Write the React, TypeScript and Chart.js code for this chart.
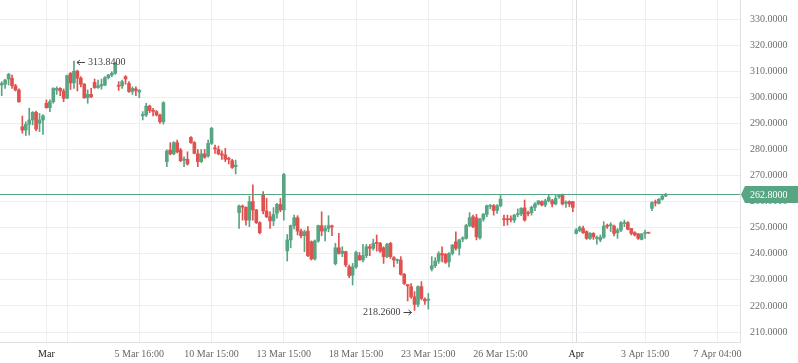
import React, { useEffect, useRef } from 'react';
import { Chart, registerables } from 'chart.js';
Chart.register(...registerables);

const opens = [
  304.7,305,307,307.3,304.4,302.8,288.7,287.4,289.6,291.3,
  294.2,290,291.3,297.7,296,298.3,302.8,303.4,302.4,299.6,
  309.2,305.5,310,307.3,305,299.8,301.1,305.7,303.7,304.3,
  304.7,307.5,308.5,309.2,304.6,304.4,307.9,305.3,302.2,303.2,
  302,292.9,293.2,296.6,295,294.5,293.2,290.6,275.3,279.8,
  278.3,282.6,279.8,275.9,276.2,284.6,282.6,278.3,275.3,278.3,
  277.5,282.3,280.6,280,278.3,277.9,276.5,275.7,273.4,255.8,
  258.2,257.8,252.9,260,256.8,251.9,262.6,256.4,254.2,252.6,
  255.5,258.9,256.8,241.1,245.3,250.8,253.8,248.7,246.9,248.7,
  244.6,238,244.9,250.8,248.7,249.7,250.6,236.2,242.3,240.1,
  240.8,235,231.8,235,239.3,237.6,239.3,242.7,242.1,244.2,
  244,242.3,238.9,244,238.5,237.4,237.6,232.1,228.2,227.4,
  223.5,220.6,227.4,222.6,222.2,234.1,235.4,237.2,240.1,239.8,
  236.9,240.1,244.6,242.1,245.6,245.9,250.8,254.2,253.8,246.1,
  253.3,255.1,258.2,258.4,256.6,258.4,253.3,253.2,253.3,252.9,
  255,255.3,257.6,255.6,255.7,257.8,259.1,260,258.7,260.3,
  260.3,259.1,261.9,262.5,259.4,260,260,247.8,248.9,249.7,
  248.5,245.9,247.8,245.9,245.3,246.3,250.7,250.8,250.6,248.1,
  249.1,251.6,251.9,249.7,248.1,247.6,245.5,247.8,248.1,257.4,
  259.7,259.3,260.9,262.1
];
const highs = [
  306,306.9,309.2,308.5,305,303.2,292.8,290.6,295.8,294.5,
  294.7,293.8,293.4,299,299,303.7,304,303.7,303.2,308.5,
  309.5,313.84,310.4,307.9,305.3,302.8,303.4,307,306.6,307,
  307.9,308.8,309.8,313.4,306,306.6,308.3,306,304,304,
  303,294.5,297.7,297,295.8,294.9,293.6,298.3,279.8,282.6,
  283,283.6,280.4,277.2,279.1,284.9,283,280,280,280,
  283.6,288.5,281.7,281.3,279.5,280.4,277,276.2,275.9,258.7,
  258.7,258,262.1,266.4,257,252.3,263.8,261.2,256.1,257.7,
  259.3,261.2,270.8,247.4,251,254.8,254.6,249.5,249.1,250.4,
  244.9,245.3,251,256.1,250.8,254.6,251,244,247.8,242.7,
  241,235.7,236.3,241,240.5,243.6,243.6,243.6,245.6,247.2,
  244.4,242.7,244,244.4,238.9,238,238.9,232.5,228.2,228.6,
  225.5,227.7,229.3,223.1,224.8,238.9,238.5,240.8,242.7,240.1,
  240.5,243.6,248.4,245.6,246.5,251.3,255.8,254.8,255.1,253.6,
  255.5,258.7,258.9,258.9,258.9,262.8,254.8,254.8,254.5,255.1,
  257.2,257.7,260.6,256.4,258.3,259.6,260.3,260.3,260.9,262.5,
  260.9,262.5,262.5,262.9,260.3,260.3,260,249.7,250.6,250.6,
  248.8,248.1,248.1,246.8,247.2,252.3,251.4,251.9,251,249.7,
  252.3,252.9,252.3,249.7,248.5,247.8,247.8,249.1,248.1,260,
  260.6,261.2,262.5,263.2
];
const lows = [
  300.6,303.4,304.7,303.4,302.4,298,286.2,285.3,285.5,289.4,
  287.1,286.8,285.8,295.8,294.5,297.7,301.1,300.6,298.3,299.6,
  303,303.4,302.4,304,299.6,297.7,299.8,303.4,303.4,303.1,
  304.4,307,307.9,308.8,302.6,303.4,305,301.9,301.1,300.6,
  299.8,291.3,292.6,294.1,292.8,292.8,290,289.7,273.4,277.9,
  277.9,278.7,275.3,273.4,274,282.3,278.3,273.4,275,276.6,
  277,281.9,278.5,277.9,276.2,275.3,274.4,272.7,270.6,249.7,
  252.9,251,250.4,252.9,251.6,247.6,255.3,253.8,249.7,250.8,
  253.6,256.1,252.9,237.2,242.3,249.5,247.2,246.1,240.8,238.9,
  237.6,237.6,244.4,246.9,244.9,248.4,246.9,235.7,239.8,238.9,
  235,230.8,228,234.4,237.6,236.9,238.5,239.3,241.4,241,
  240.5,236.3,238.5,238.2,235,236.3,231.8,228.2,221.9,222.9,
  218.26,219.7,222.3,220.6,218.8,233.4,234.7,236.3,236.9,236.3,
  235,239.5,241.4,239.5,244.6,245.6,250.4,250,245.3,245.6,
  252.5,254.2,257.2,254.8,255.5,258,250.8,251,252.2,252,
  254.2,254.6,252.5,254.5,254.8,256.5,258.7,258.3,258,259.9,
  258,258.7,261.2,258.7,257.8,258,256.1,247.6,248.5,247.8,
  245.5,245.5,245.5,243.7,244.6,245.9,249.7,248.5,246.8,245.9,
  248.5,250.4,249.1,247.2,246.8,245.5,245.3,245.9,247.8,256.5,
  258.3,259.1,260.6,261.9
];
const closes = [
  305.3,306.6,308.8,304.4,302.8,298.3,287.4,289.6,291.3,294.2,
  287.8,291.3,292.9,296,298.3,303.4,303.4,302.4,299.6,308.3,
  305.5,310,307.3,305,299.8,301.1,300.2,303.7,304.4,304.9,
  307.5,308.5,309.2,313,304.2,306,307,302.2,303.4,302.6,
  302.6,293.4,296.6,294.9,294.6,293.2,290.6,297.9,279.4,278.3,
  282.6,279.1,275.7,276.3,274.4,282.6,278.5,275.3,278.3,277,
  282.3,288.1,280.2,278.3,277.8,276.2,276.2,273.1,274,258.3,
  257.9,252.9,260,256.8,251.9,248.1,256.4,254.2,252.6,255.1,
  258.9,256.8,270.4,245.3,250.8,253.8,248.7,246.9,248.4,239.3,
  238,244.9,250.8,248.7,249.7,250.8,250.3,242.3,240.1,241,
  235.7,231.6,235,240.5,237.6,239.3,242.7,242.1,244,244,
  241,238.9,243.6,238.9,237.6,237.8,232.1,228.6,227.7,223.5,
  220.6,227.4,222.9,221.9,222.4,235.4,237.2,240.1,239.5,236.7,
  240.1,243.3,242.1,245.3,246.1,250.8,253.8,250.4,246.5,253.3,
  255.1,258.4,258.6,256.6,258.4,261,253.1,253,253.1,254.8,
  255.3,257.4,252.9,255.4,257.8,259.1,260.3,258.7,260.3,261.6,
  259.1,261.2,262.2,259.1,259.7,259.1,257.8,249.1,250.1,248.1,
  245.9,247.8,246.5,246.1,246.3,250.6,250.5,251,247.8,249.1,
  251.9,252,249.4,247.8,247.2,245.9,247.6,248,247.9,259.6,
  259.5,260.9,262.1,262.8
];

const timeTickIndices = [13, 19, 40, 61, 82, 103, 124, 145, 166, 167, 187, 208];
const timeTickLabels = ['Mar', '', '5 Mar 16:00', '10 Mar 15:00', '13 Mar 15:00', '18 Mar 15:00', '23 Mar 15:00', '26 Mar 15:00', '', 'Apr', '3 Apr 15:00', '7 Apr 04:00'];
const priceTicks = [210, 220, 230, 240, 250, 260, 270, 280, 290, 300, 310, 320, 330];
const lastPrice = 262.8;

const GREEN = '#58a583';
const RED = '#e0524f';
const GRID = '#edf0f3';
const SERIF = "'Liberation Serif', 'Times New Roman', serif";

const overlayPlugin = {
  id: 'overlay',
  afterDatasetsDraw(chart: any) {
    const { ctx, chartArea, scales } = chart;
    const x = scales.x;
    const y = scales.y;
    ctx.save();
    const py = Math.round(y.getPixelForValue(lastPrice)) + 0.5;
    ctx.strokeStyle = GREEN;
    ctx.lineWidth = 1;
    ctx.beginPath();
    ctx.moveTo(chartArea.left, py);
    ctx.lineTo(chartArea.right, py);
    ctx.stroke();

    const tl = chartArea.right + 1;
    const tr = chart.width;
    const h = 17;
    ctx.fillStyle = GREEN;
    ctx.beginPath();
    ctx.moveTo(tl, py);
    ctx.lineTo(tl + 4, py - h / 2);
    ctx.lineTo(tr, py - h / 2);
    ctx.lineTo(tr, py + h / 2);
    ctx.lineTo(tl + 4, py + h / 2);
    ctx.closePath();
    ctx.fill();
    ctx.fillStyle = '#ffffff';
    ctx.font = `10px ${SERIF}`;
    ctx.textAlign = 'left';
    ctx.textBaseline = 'middle';
    ctx.fillText(lastPrice.toFixed(4), chartArea.right + 10, py + 0.5);

    let hi = 0, lo = 0;
    for (let i = 0; i < highs.length; i++) {
      if (highs[i] > highs[hi]) hi = i;
      if (lows[i] < lows[lo]) lo = i;
    }
    ctx.strokeStyle = '#444';
    ctx.fillStyle = '#444';
    ctx.lineWidth = 1;
    const hx = x.getPixelForValue(hi);
    const hy = Math.round(y.getPixelForValue(highs[hi])) + 1.5;
    ctx.beginPath();
    ctx.moveTo(hx + 3, hy);
    ctx.lineTo(hx + 11, hy);
    ctx.moveTo(hx + 3, hy);
    ctx.lineTo(hx + 6, hy - 2.5);
    ctx.moveTo(hx + 3, hy);
    ctx.lineTo(hx + 6, hy + 2.5);
    ctx.stroke();
    ctx.textAlign = 'left';
    ctx.fillText(highs[hi].toFixed(4), hx + 14, hy);

    const lx = x.getPixelForValue(lo);
    const ly = Math.round(y.getPixelForValue(lows[lo])) + 2.5;
    ctx.beginPath();
    ctx.moveTo(lx - 3, ly);
    ctx.lineTo(lx - 11, ly);
    ctx.moveTo(lx - 3, ly);
    ctx.lineTo(lx - 6, ly - 2.5);
    ctx.moveTo(lx - 3, ly);
    ctx.lineTo(lx - 6, ly + 2.5);
    ctx.stroke();
    ctx.textAlign = 'right';
    ctx.fillText(lows[lo].toFixed(4), lx - 14, ly);
    ctx.restore();
  },
};

export default function App() {
  const ref = useRef<HTMLCanvasElement>(null);
  useEffect(() => {
    document.body.style.margin = '0';
    const idx = opens.map((_, i) => i);
    const colors = idx.map((i) => (closes[i] >= opens[i] ? GREEN : RED));
    const chart = new Chart(ref.current as HTMLCanvasElement, {
      type: 'bar',
      data: {
        datasets: [
          {
            label: 'wick',
            data: idx.map((i) => ({ x: i, y: [lows[i], highs[i]] })) as any,
            backgroundColor: colors,
            barThickness: 1,
            grouped: false,
            order: 2,
            borderWidth: 0,
          } as any,
          {
            label: 'body',
            data: idx.map((i) => ({ x: i, y: [Math.min(opens[i], closes[i]), Math.max(opens[i], closes[i])] })) as any,
            backgroundColor: colors,
            barThickness: 3,
            minBarLength: 1,
            grouped: false,
            order: 1,
            borderWidth: 0,
          } as any,
        ],
      },
      options: {
        responsive: false,
        animation: false,
        devicePixelRatio: 1,
        layout: { padding: 0 },
        plugins: { legend: { display: false }, tooltip: { enabled: false } },
        scales: {
          x: {
            type: 'linear',
            min: -0.494,
            max: 214.6,
            offset: false,
            afterBuildTicks: (s: any) => {
              s.ticks = timeTickIndices.map((v) => ({ value: v }));
            },
            afterFit: (s: any) => {
              s.height = 21;
              s.paddingLeft = 0;
              s.paddingRight = 0;
            },
            ticks: {
              autoSkip: false,
              maxRotation: 0,
              padding: 6,
              callback: (_v: any, i: number) => timeTickLabels[i],
              font: { family: SERIF, size: 10 },
              color: (c: any) => (c.index === 0 || c.index === 9 ? '#1e1e1e' : '#666666'),
            },
            grid: {
              offset: false,
              color: (c: any) => (c.index === 9 ? '#d9dce1' : GRID),
              drawTicks: false,
            },
            border: { color: '#dde1e6' },
          } as any,
          y: {
            position: 'right',
            min: 206.17,
            max: 337.29,
            afterBuildTicks: (s: any) => {
              s.ticks = priceTicks.map((v) => ({ value: v }));
            },
            afterFit: (s: any) => {
              s.width = 58;
              s.paddingTop = 0;
              s.paddingBottom = 0;
            },
            ticks: {
              padding: 10,
              callback: (v: any) => Number(v).toFixed(4),
              font: { family: SERIF, size: 10 },
              color: '#6e6e6e',
            },
            grid: { color: GRID, drawTicks: false },
            border: { color: '#dde1e6' },
          } as any,
        },
      },
      plugins: [overlayPlugin],
    });
    return () => chart.destroy();
  }, []);
  return <canvas ref={ref} width={798} height={363} style={{ display: 'block' }} />;
}
